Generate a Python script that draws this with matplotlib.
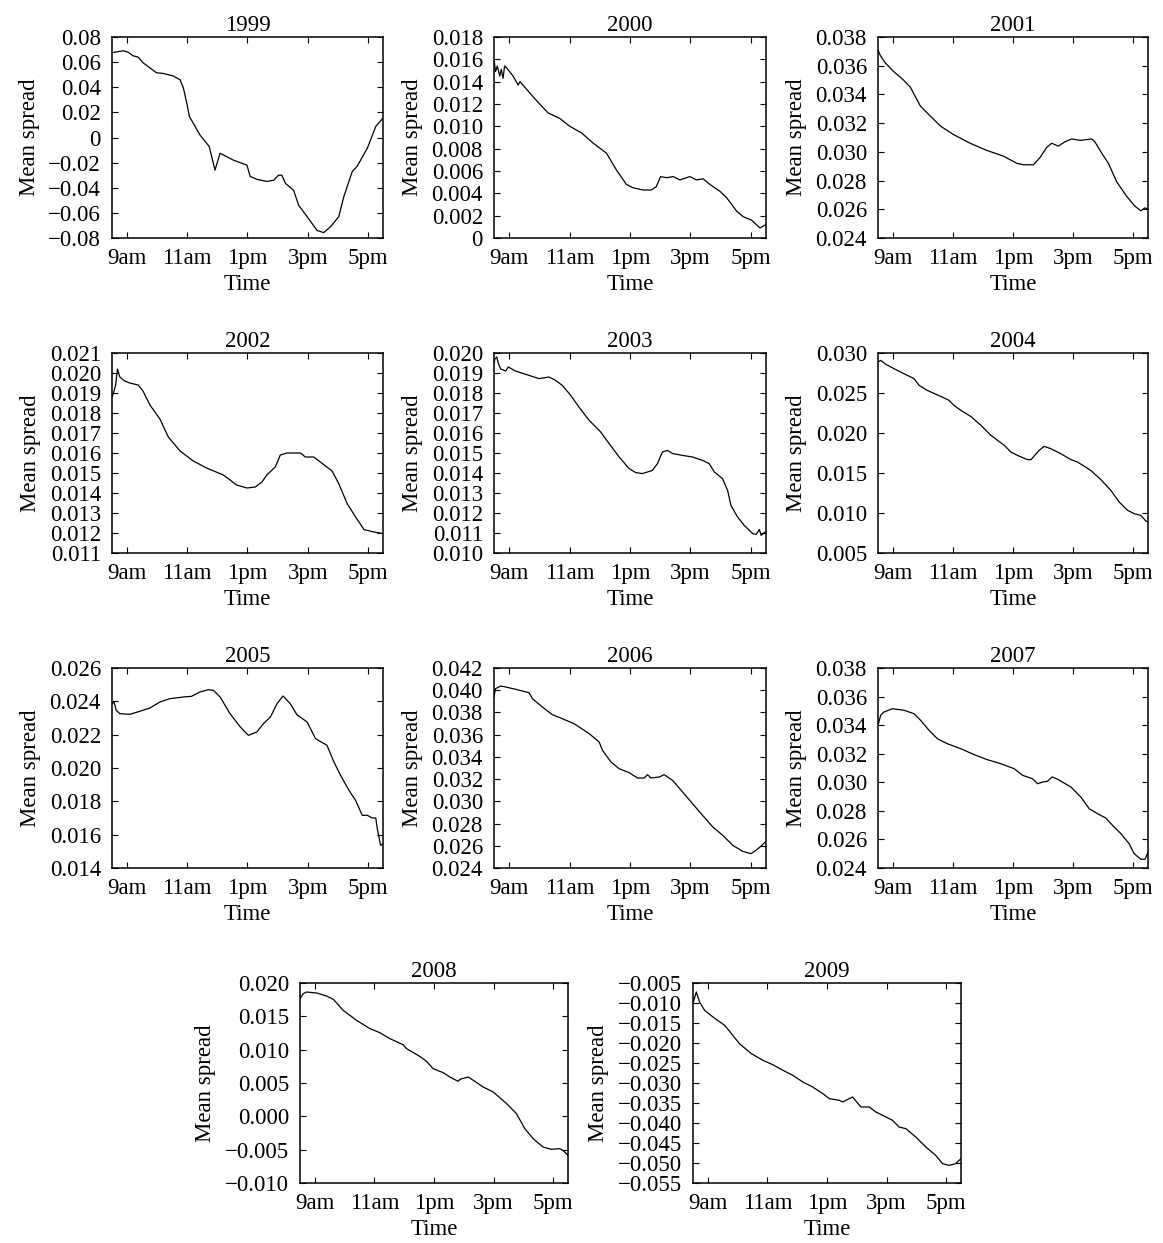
import numpy as np
import matplotlib
matplotlib.use("Agg")
import matplotlib.pyplot as plt
from matplotlib.ticker import FixedLocator, FuncFormatter

plt.rcParams['font.family'] = ['Liberation Serif', 'DejaVu Serif']
plt.rcParams['axes.unicode_minus'] = True

# ---------------- data (time in hours, value = mean spread) ----------------
years = ["1999", "2000", "2001", "2002", "2003", "2004",
         "2005", "2006", "2007", "2008", "2009"]

t1999 = [8.5, 8.87, 9.03, 9.2, 9.37, 9.53, 9.98, 10.2, 10.53, 10.76, 10.87, 10.96, 11.07, 11.26,
         11.42, 11.73, 11.92, 12.09, 12.53, 12.98, 13.09, 13.31, 13.64, 13.87, 14.03, 14.14, 14.26,
         14.53, 14.7, 14.98, 15.31, 15.53, 15.76, 16.03, 16.2, 16.48, 16.64, 16.98, 17.26, 17.5]
v1999 = [0.0675, 0.069, 0.068, 0.065, 0.064, 0.0595, 0.0515, 0.051, 0.049, 0.046, 0.0395, 0.030,
         0.0168, 0.0088, 0.002, -0.0072, -0.026, -0.0125, -0.018, -0.022, -0.031, -0.0333, -0.035,
         -0.034, -0.030, -0.030, -0.0365, -0.042, -0.054, -0.063, -0.074, -0.0757, -0.071, -0.063,
         -0.047, -0.027, -0.023, -0.0085, 0.0088, 0.0155]

t2000 = [8.5, 8.55, 8.61, 8.69, 8.74, 8.8, 8.85, 8.93, 9.13, 9.3, 9.36, 9.68, 10.01, 10.29, 10.68,
         11.01, 11.4, 11.78, 12.22, 12.55, 12.88, 13.1, 13.43, 13.71, 13.87, 14.01, 14.21, 14.43,
         14.65, 14.98, 15.2, 15.42, 15.64, 15.97, 16.2, 16.53, 16.75, 17.02, 17.3, 17.5]
v2000 = [0.0160, 0.0149, 0.0154, 0.0145, 0.0151, 0.0143, 0.0154, 0.0152, 0.0145, 0.0137, 0.0140,
         0.0130, 0.0120, 0.0112, 0.0107, 0.0100, 0.0094, 0.0085, 0.0076, 0.0061, 0.0048, 0.0045,
         0.0043, 0.0043, 0.0046, 0.0055, 0.0054, 0.0055, 0.0052, 0.0055, 0.0052, 0.0053, 0.0048,
         0.0042, 0.0036, 0.0024, 0.0019, 0.0016, 0.0009, 0.0012]

t2001 = [8.5, 8.58, 8.74, 9.02, 9.35, 9.58, 9.91, 10.24, 10.58, 11.02, 11.57, 12.13, 12.68, 13.13,
         13.35, 13.68, 13.9, 14.12, 14.29, 14.51, 14.73, 14.96, 15.24, 15.62, 15.73, 15.96, 16.18,
         16.46, 16.79, 17.07, 17.26, 17.4, 17.5]
v2001 = [0.0371, 0.0367, 0.0362, 0.0356, 0.0350, 0.0345, 0.0332, 0.0325, 0.0318, 0.0312, 0.0306,
         0.0301, 0.0297, 0.0292, 0.0291, 0.0291, 0.0296, 0.0303, 0.0306, 0.0304, 0.0307, 0.0309,
         0.0308, 0.0309, 0.0307, 0.0299, 0.0292, 0.0279, 0.0269, 0.0262, 0.0259, 0.0261, 0.0260]

t2002 = [8.5, 8.57, 8.62, 8.68, 8.76, 8.92, 9.09, 9.37, 9.53, 9.76, 10.09, 10.37, 10.76, 11.2,
         11.64, 12.2, 12.64, 12.98, 13.26, 13.48, 13.64, 13.92, 14.09, 14.31, 14.76, 14.92, 15.2,
         15.42, 15.81, 16.03, 16.31, 16.59, 16.87, 17.2, 17.5]
v2002 = [0.0188, 0.0191, 0.0194, 0.0202, 0.0198, 0.0196, 0.0195, 0.0194, 0.0191, 0.0184, 0.0177,
         0.0168, 0.0161, 0.0156, 0.01525, 0.0149, 0.0144, 0.01425, 0.0143, 0.01455, 0.0149, 0.0153,
         0.0159, 0.0160, 0.0160, 0.0158, 0.0158, 0.01555, 0.0151, 0.01447, 0.01347, 0.0128,
         0.01217, 0.01205, 0.01197]

t2003 = [8.5, 8.53, 8.59, 8.64, 8.72, 8.89, 8.97, 9.21, 9.66, 9.99, 10.32, 10.54, 10.76, 11.04,
         11.31, 11.65, 12.03, 12.31, 12.64, 12.97, 13.19, 13.41, 13.74, 13.91, 14.07, 14.24, 14.41,
         14.74, 15.07, 15.4, 15.62, 15.79, 16.06, 16.23, 16.34, 16.56, 16.78, 17.06, 17.17, 17.28,
         17.34, 17.47]
v2003 = [0.0195, 0.0197, 0.0198, 0.0195, 0.0192, 0.0191, 0.0193, 0.0191, 0.01888, 0.01872, 0.0188,
         0.01863, 0.01838, 0.01788, 0.0173, 0.01663, 0.01605, 0.01547, 0.0148, 0.01422, 0.01402,
         0.01397, 0.01413, 0.01447, 0.01505, 0.01513, 0.01497, 0.01488, 0.0148, 0.01463, 0.01447,
         0.01405, 0.01372, 0.01313, 0.01238, 0.0118, 0.01138, 0.01097, 0.01093, 0.01117, 0.01088,
         0.01105]

t2004 = [8.5, 8.59, 8.76, 9.14, 9.48, 9.7, 9.87, 10.14, 10.59, 10.87, 11.03, 11.26, 11.59, 11.93,
         12.26, 12.71, 12.93, 13.15, 13.48, 13.6, 13.87, 14.04, 14.26, 14.59, 14.93, 15.15, 15.59,
         15.93, 16.26, 16.54, 16.82, 17.04, 17.26, 17.43, 17.5]
v2004 = [0.02887, 0.02908, 0.02858, 0.02783, 0.0272, 0.0268, 0.02596, 0.02533, 0.02458, 0.02408,
         0.02346, 0.02283, 0.02208, 0.02096, 0.01971, 0.01846, 0.01762, 0.0172, 0.01667, 0.01667,
         0.01783, 0.01833, 0.01804, 0.01742, 0.01667, 0.01637, 0.01533, 0.01417, 0.01283, 0.01137,
         0.01033, 0.00992, 0.0097, 0.0090, 0.00888]

t2005 = [8.5, 8.57, 8.64, 8.76, 9.09, 9.42, 9.76, 10.09, 10.42, 10.87, 11.14, 11.42, 11.7, 11.87,
         12.09, 12.42, 12.76, 13.03, 13.31, 13.53, 13.76, 13.98, 14.18, 14.42, 14.64, 14.98, 15.26,
         15.64, 15.87, 16.09, 16.37, 16.59, 16.81, 16.98, 17.14, 17.26, 17.31, 17.42, 17.5]
v2005 = [0.02386, 0.02396, 0.02346, 0.02326, 0.02322, 0.0234, 0.0236, 0.02396, 0.02416, 0.02426,
         0.0243, 0.02456, 0.0247, 0.02466, 0.02426, 0.02326, 0.02246, 0.02196, 0.02216, 0.02266,
         0.02306, 0.02386, 0.02432, 0.02386, 0.0232, 0.02276, 0.02176, 0.02136, 0.02036, 0.01956,
         0.01866, 0.01806, 0.01716, 0.01716, 0.0170, 0.0170, 0.01636, 0.01536, 0.01546]

t2006 = [8.5, 8.55, 8.72, 8.89, 9.22, 9.66, 9.77, 10.1, 10.43, 10.76, 11.15, 11.65, 11.98, 12.09,
         12.37, 12.64, 12.97, 13.25, 13.47, 13.58, 13.69, 13.97, 14.13, 14.41, 14.74, 15.07, 15.4,
         15.74, 16.07, 16.4, 16.73, 17.0, 17.17, 17.34, 17.5]
v2006 = [0.0394, 0.04014, 0.04038, 0.04029, 0.04008, 0.03978, 0.03924, 0.03849, 0.0378, 0.03744,
         0.03699, 0.03609, 0.03534, 0.03459, 0.03354, 0.03294, 0.03258, 0.0321, 0.0321, 0.0324,
         0.0321, 0.03219, 0.0324, 0.03189, 0.03084, 0.02979, 0.02874, 0.02769, 0.02694, 0.02604,
         0.0255, 0.02529, 0.02559, 0.02598, 0.0264]

t2007 = [8.5, 8.59, 8.7, 8.98, 9.37, 9.7, 9.92, 10.2, 10.48, 10.81, 11.26, 11.71, 12.15, 12.59,
         13.04, 13.32, 13.65, 13.82, 13.99, 14.15, 14.3, 14.49, 14.93, 15.26, 15.54, 15.82, 16.09,
         16.37, 16.6, 16.87, 17.04, 17.26, 17.4, 17.5]
v2007 = [0.03399, 0.03469, 0.03492, 0.03515, 0.03504, 0.0348, 0.03434, 0.03364, 0.03305, 0.0327,
         0.03235, 0.03193, 0.03158, 0.0313, 0.03095, 0.03049, 0.03025, 0.0299, 0.03002, 0.03007,
         0.03037, 0.03021, 0.02967, 0.02897, 0.02815, 0.0278, 0.0275, 0.02687, 0.0264, 0.0257,
         0.0250, 0.02461, 0.02461, 0.02512]

t2008 = [8.5, 8.61, 8.72, 9.06, 9.39, 9.62, 9.95, 10.4, 10.85, 11.18, 11.52, 11.96, 12.08, 12.52,
         12.75, 12.97, 13.31, 13.53, 13.81, 13.87, 14.15, 14.32, 14.65, 14.99, 15.44, 15.77, 16.05,
         16.33, 16.66, 16.94, 17.22, 17.33, 17.5]
v2008 = [0.01765, 0.0184, 0.01865, 0.0185, 0.01805, 0.01755, 0.0159, 0.0144, 0.01315, 0.01255,
         0.01165, 0.01075, 0.01015, 0.0090, 0.00825, 0.00715, 0.00655, 0.0059, 0.00525, 0.00555,
         0.0059, 0.0054, 0.0044, 0.00365, 0.0019, 0.0004, -0.00185, -0.00335, -0.0046, -0.00495,
         -0.00485, -0.0051, -0.00585]

t2009 = [8.5, 8.56, 8.61, 8.72, 8.89, 9.17, 9.56, 9.73, 10.06, 10.46, 10.85, 11.18, 11.52, 11.85,
         12.19, 12.52, 12.86, 13.08, 13.42, 13.53, 13.7, 13.86, 13.95, 14.14, 14.42, 14.64, 14.98,
         15.2, 15.42, 15.65, 15.98, 16.32, 16.65, 16.88, 17.1, 17.32, 17.5]
v2009 = [-0.01017, -0.0085, -0.00725, -0.00975, -0.01183, -0.0135, -0.01558, -0.01708, -0.02017,
         -0.02267, -0.02433, -0.02542, -0.02683, -0.02808, -0.02975, -0.031, -0.03267, -0.03392,
         -0.03433, -0.03475, -0.03408, -0.0335, -0.03433, -0.036, -0.036, -0.03725, -0.0385,
         -0.03933, -0.041, -0.04142, -0.0435, -0.046, -0.04808, -0.05017, -0.05058, -0.05017,
         -0.04892]

times = [t1999, t2000, t2001, t2002, t2003, t2004, t2005, t2006, t2007, t2008, t2009]
values = [v1999, v2000, v2001, v2002, v2003, v2004, v2005, v2006, v2007, v2008, v2009]

# y-axis ranges, tick steps and label decimals per panel
y_low = [-0.08, 0.0, 0.024, 0.011, 0.010, 0.005, 0.014, 0.024, 0.024, -0.010, -0.055]
y_high = [0.08, 0.018, 0.038, 0.021, 0.020, 0.030, 0.026, 0.042, 0.038, 0.020, -0.005]
y_step = [0.02, 0.002, 0.002, 0.001, 0.001, 0.005, 0.002, 0.002, 0.002, 0.005, 0.005]
y_decimals = [2, 3, 3, 3, 3, 3, 3, 3, 3, 3, 3]
zero_as_plain = [True, True, False, False, False, False, False, False, False, False, False]

x_ticks = [9, 11, 13, 15, 17]
x_ticklabels = ["9am", "11am", "1pm", "3pm", "5pm"]
x_range = (8.5, 17.5)

# ---------------- layout ----------------
W, H = 1163, 1243
fig = plt.figure(figsize=(W / 100, H / 100), dpi=100)

# axes boxes in pixels: (left, top, right, bottom)
boxes = [
    (112, 37, 383, 238), (494, 37, 766, 238), (878, 37, 1148, 238),
    (112, 353, 383, 553), (494, 353, 766, 553), (878, 353, 1148, 553),
    (112, 668, 383, 868), (494, 668, 766, 868), (878, 668, 1148, 868),
    (300, 983, 568, 1183), (693, 983, 961, 1183),
]

FS = 16.5


def make_fmt(dec, plain0):
    def f(v, pos):
        if plain0 and abs(v) < 1e-12:
            return "0"
        s = f"{v:.{dec}f}"
        if s.startswith("-"):
            s = "\u2212" + s[1:]
        return s
    return f


for i, yr in enumerate(years):
    l, t, r, b = boxes[i]
    ax = fig.add_axes([l / W, 1 - b / H, (r - l) / W, (b - t) / H])
    ax.plot(times[i], values[i], color="black", lw=0.9)
    ax.set_xlim(*x_range)
    ax.set_ylim(y_low[i], y_high[i])
    n = int(round((y_high[i] - y_low[i]) / y_step[i]))
    yt = np.linspace(y_low[i], y_high[i], n + 1)
    ax.yaxis.set_major_locator(FixedLocator(yt))
    ax.yaxis.set_major_formatter(FuncFormatter(make_fmt(y_decimals[i], zero_as_plain[i])))
    ax.set_xticks(x_ticks)
    ax.set_xticklabels(x_ticklabels)
    ax.tick_params(direction="in", top=True, right=True, length=4, width=0.8,
                   labelsize=FS, colors="black")
    ax.tick_params(axis="y", pad=8)
    ax.tick_params(axis="x", pad=7)
    for s in ax.spines.values():
        s.set_linewidth(1.1)
    ax.set_title(yr, fontsize=FS, pad=4)
    ax.set_xlabel("Time", fontsize=FS, labelpad=4)
    ax.set_ylabel("Mean spread", fontsize=FS, labelpad=6)

fig.savefig("out.png", dpi=100)
